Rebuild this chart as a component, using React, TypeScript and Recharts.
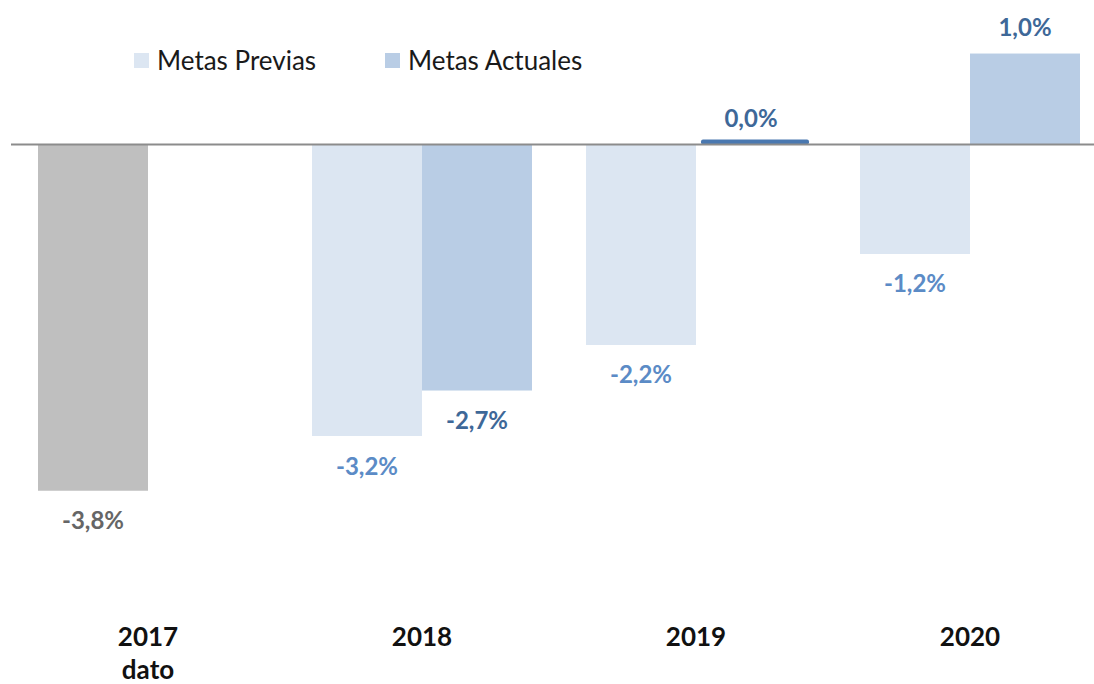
import { BarChart, Bar, XAxis, YAxis, Cell, LabelList, Legend, ReferenceLine } from "recharts";

const categories = ["2017\ndato", "2018", "2019", "2020"];
const metasPrevias = [-3.8, -3.2, -2.2, -1.2];
const metasActuales = [null, -2.7, 0.0, 1.0];
// the 2017 figure is an outturn, not a target
const isDato = [true, false, false, false];
const seriesOrder = ["Metas Previas", "Metas Actuales"];

const C = {
  previas: "#dce6f2",
  actuales: "#b9cde5",
  dato: "#bfbfbf",
  previasText: "#5b8bc6",
  actualesText: "#3e6898",
  datoText: "#666666",
  zeroBar: "#4a78b0",
  axis: "#8c8c8c",
};

const FONT = "Lato, 'Open Sans', sans-serif";

const data = categories.map((c, i) => ({
  cat: c,
  previas: metasPrevias[i],
  actuales: metasActuales[i],
}));

const fmt = (v: number) => `${v.toFixed(1).replace(".", ",")}%`;

function makeLabel(colorFor: (i: number) => string) {
  return (props: any) => {
    const vb = props.viewBox ?? props;
    const { x, y, width, height } = vb;
    const v = Number(props.value);
    if (props.value == null || Number.isNaN(v)) return null;
    const cx = x + width / 2;
    const neg = v < 0;
    const end = neg ? Math.max(y, y + height) : Math.min(y, y + height);
    return (
      <text
        x={cx}
        y={neg ? end + 29 : end - 27}
        textAnchor="middle"
        dominantBaseline="central"
        fontFamily={FONT}
        fontWeight={700}
        fontSize={24}
        fill={colorFor(props.index)}
      >
        {fmt(v)}
      </text>
    );
  };
}

const ActualesShape = (props: any) => {
  const { x, y, width, height, value } = props;
  const v = Array.isArray(value) ? value[1] - value[0] : value;
  if (v === 0 || Math.abs(height) < 1) {
    return <rect x={x + 5} y={y - 5} width={width - 2} height={5} rx={2} fill={C.zeroBar} />;
  }
  const top = Math.min(y, y + height);
  return <rect x={x} y={top} width={width} height={Math.abs(height)} fill={C.actuales} />;
};

const CatTick = (props: any) => {
  const { x, y, payload } = props;
  const lines = String(payload.value).split("\n");
  return (
    <text x={x} y={y + 38} textAnchor="middle" fontFamily={FONT} fontWeight={700} fontSize={26} fill="#111">
      {lines.map((l, i) => (
        <tspan key={i} x={x} dy={i === 0 ? 0 : 33}>
          {l}
        </tspan>
      ))}
    </text>
  );
};

const LegendBox = (props: any) => {
  const items = [...((props.payload ?? []) as any[])].sort(
    (a, b) => seriesOrder.indexOf(a.value) - seriesOrder.indexOf(b.value)
  );
  return (
    <div style={{ display: "flex", alignItems: "center", fontFamily: FONT, fontSize: 26, color: "#1a1a1a" }}>
      {items.map((it, i) => (
        <div key={i} style={{ display: "flex", alignItems: "center", width: i === 0 ? 251 : "auto" }}>
          <span style={{ width: 15, height: 15, background: it.color, display: "inline-block", marginRight: 8 }} />
          <span>{it.value}</span>
        </div>
      ))}
    </div>
  );
};

export default function App() {
  return (
    <div style={{ position: "absolute", left: 0, top: 0, width: 1094, height: 684, overflow: "hidden", background: "#fff" }}>
      <BarChart
        width={1107}
        height={684}
        data={data}
        margin={{ top: 8, right: 0, left: 11, bottom: 0 }}
        barSize={110}
        barGap={0}
      >
        <XAxis dataKey="cat" height={84} axisLine={false} tickLine={false} interval={0} tick={<CatTick />} />
        <YAxis hide domain={[-5, 1.5]} />
        <Legend
          layout="vertical"
          verticalAlign="middle"
          align="center"
          content={<LegendBox />}
          wrapperStyle={{ top: 44, left: 134, width: "auto" }}
        />
        <ReferenceLine y={0} stroke={C.axis} strokeWidth={2} />
        <Bar dataKey="previas" name="Metas Previas" fill={C.previas} isAnimationActive={false}>
          {data.map((_, i) => (
            <Cell key={i} fill={isDato[i] ? C.dato : C.previas} />
          ))}
          <LabelList dataKey="previas" content={makeLabel((i) => (isDato[i] ? C.datoText : C.previasText))} />
        </Bar>
        <Bar dataKey="actuales" name="Metas Actuales" fill={C.actuales} shape={<ActualesShape />} isAnimationActive={false}>
          <LabelList dataKey="actuales" content={makeLabel(() => C.actualesText)} />
        </Bar>
      </BarChart>
    </div>
  );
}
